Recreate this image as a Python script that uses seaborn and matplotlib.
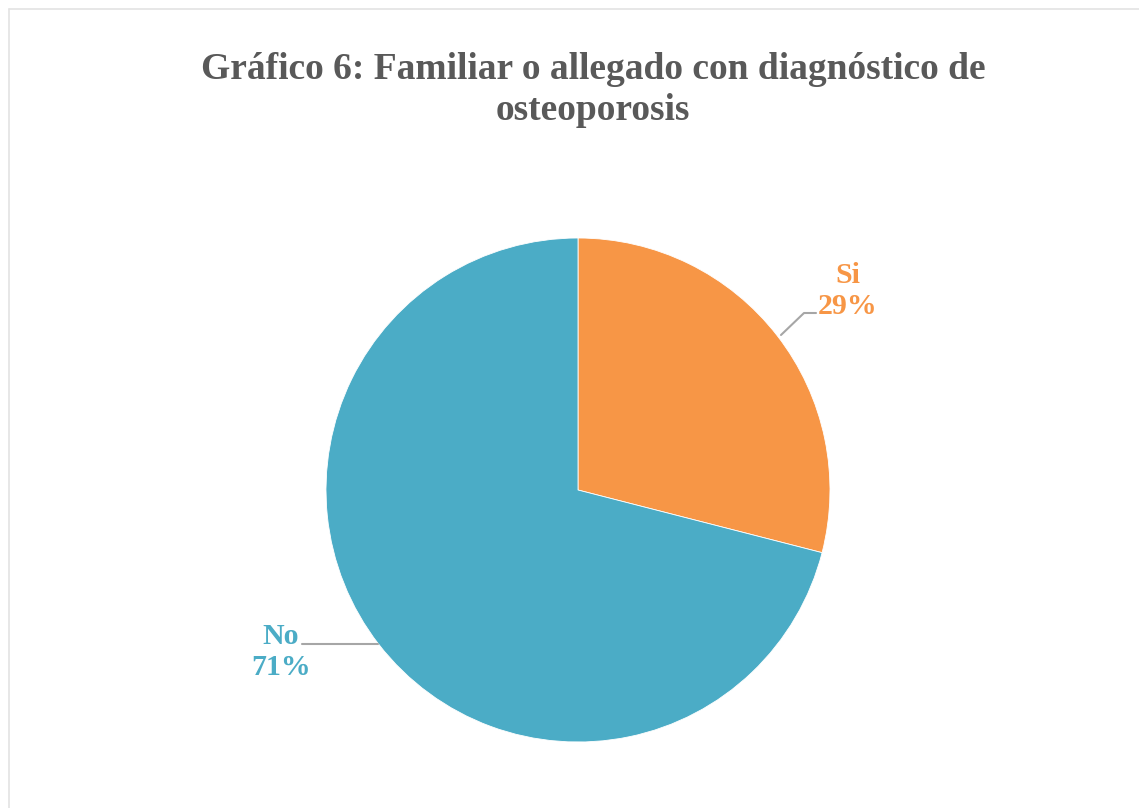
import matplotlib
matplotlib.use('Agg')
import matplotlib.pyplot as plt
import seaborn as sns

sns.set_theme(style='white')
plt.rcParams['font.family'] = ['Liberation Serif', 'DejaVu Serif']

labels = ['Si', 'No']
values = [29, 71]
colors = ['#F79646', '#4BACC6']

W, H = 1139, 808
fig = plt.figure(figsize=(W / 100, H / 100), dpi=100)
ax = fig.add_axes([0, 0, 1, 1])

cx, cy, r = 578, H - 490, 252
ax.pie(values, colors=colors, startangle=90, counterclock=False,
       center=(cx, cy), radius=r, frame=True,
       wedgeprops=dict(linewidth=0.6, edgecolor='white'))
ax.set_xlim(0, W)
ax.set_ylim(0, H)
ax.axis('off')

# leader lines
ax.plot([781, 804, 816], [H - 335, H - 313, H - 313], color='#a6a6a6', lw=1.5)
ax.plot([302, 378], [H - 644, H - 644], color='#a6a6a6', lw=1.5)

pct = [f'{v}%' for v in values]
ax.text(848, H - 291, f'{labels[0]}\n{pct[0]}', color=colors[0], ha='center', va='center',
        fontsize=21.5, fontweight='bold', linespacing=1.15)
ax.text(281, H - 652, f'{labels[1]}\n{pct[1]}', color=colors[1], ha='center', va='center',
        fontsize=21.5, fontweight='bold', linespacing=1.15)

fig.text(593 / W, 1 - 90 / H, 'Gráfico 6: Familiar o allegado con diagnóstico de\nosteoporosis',
         ha='center', va='center', fontsize=27, fontweight='bold', color='#595959',
         linespacing=1.2)

# faint frame
ax.plot([9, 1139], [H - 9, H - 9], color='#e3e3e3', lw=1.2)
ax.plot([9, 9], [H - 9, 0], color='#e3e3e3', lw=1.2)

fig.savefig('out.png', dpi=100, facecolor='white')
